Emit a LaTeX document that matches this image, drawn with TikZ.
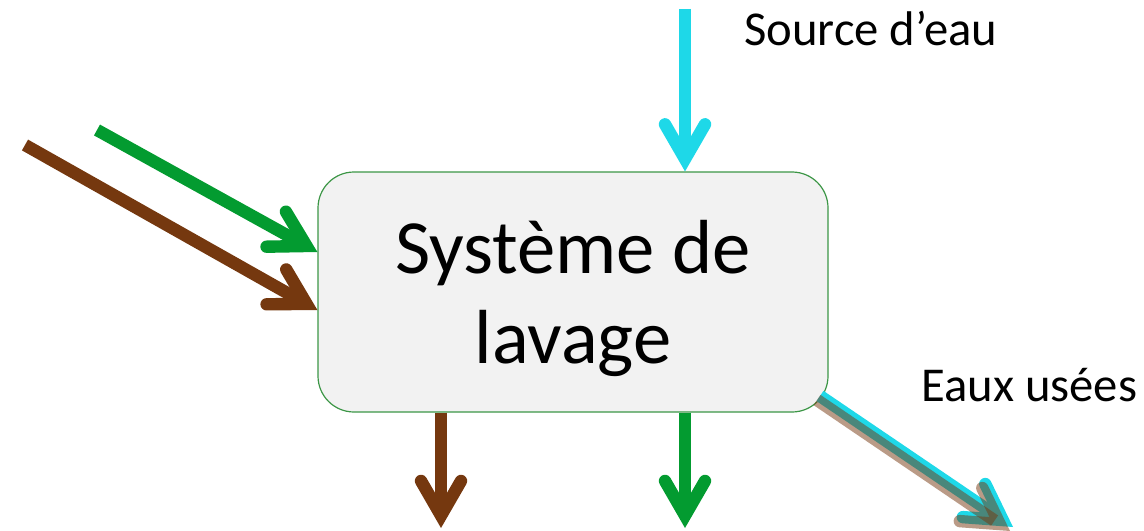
\documentclass[tikz,border=0pt]{standalone}
\usepackage{fontspec}
\setmainfont{Carlito}
\usetikzlibrary{arrows.meta,calc}
\definecolor{cgreen}{RGB}{3,155,48}
\definecolor{cbrown}{RGB}{117,56,15}
\definecolor{ccyan}{RGB}{30,216,232}
\definecolor{cborder}{RGB}{60,150,70}
\definecolor{cfill}{RGB}{242,242,242}
\tikzset{
  flow/.style={line width=9.3pt, -{Straight Barb[line cap=round, line join=miter, length=26pt, width=30pt]}},
  sysbox/.style={draw=cborder, line width=0.9pt, fill=cfill, rounded corners=27pt,
    minimum width=382.5pt, minimum height=180pt},
  boxtext/.style={anchor=base, inner sep=0pt, font=\fontsize{57.5}{64}\selectfont},
  lbl/.style={anchor=base west, inner sep=0pt, font=\fontsize{36.5}{40}\selectfont}
}
\begin{document}
\begin{tikzpicture}[x=0.75pt, y=-0.75pt]
\useasboundingbox (0,0) rectangle (1144,531);
\node[sysbox] (box) at (573,292) {};
\node[boxtext] (t1) at (573,273) {Système de};
\node[boxtext] (t2) at (573,363) {lavage};
% inputs
\coordinate (srcA) at (685,9);
\coordinate (gA) at (97,130);
\coordinate (bA) at (25,145);
\coordinate (gB) at ($(box.west)+(0,-40)$);
\coordinate (bB) at ($(box.west)+(0,18)$);
\draw[flow, ccyan] (srcA) -- (srcA |- box.north);
\draw[flow, cgreen] (gA) -- (gB);
\draw[flow, cbrown] (bA) -- (bB);
% outputs
\coordinate (bOut) at (441,528);
\coordinate (gOut) at (685,528);
\draw[flow, cbrown] (bOut |- box.south) -- (bOut);
\draw[flow, cgreen] (gOut |- box.south) -- (gOut);
\coordinate (wA) at (820,396);
\coordinate (wB) at (1013,527);
\draw[flow, ccyan] (wA) -- (wB);
\draw[flow, cbrown, opacity=0.5] ($(wA)+(-3,4)$) -- ($(wB)+(-3,4)$);
% labels
\node[lbl] (src) at (744,46) {Source d’eau};
\node[lbl] (eu) at (921,401) {Eaux usées};
\end{tikzpicture}
\end{document}
